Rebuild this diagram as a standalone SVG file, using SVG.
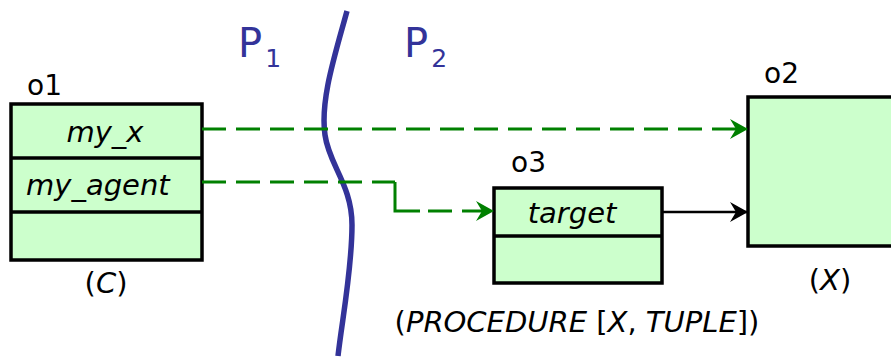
<svg xmlns="http://www.w3.org/2000/svg" width="891" height="360" viewBox="0 0 891 360">
  <style>
    .box { fill: #ccffcc; stroke: #000; stroke-width: 3.5; }
    .div { stroke: #000; stroke-width: 3.5; }
    .name { font-family: "DejaVu Sans", Verdana, sans-serif; font-size: 28px; fill: #000; }
    .attr { font-family: "DejaVu Sans", Verdana, sans-serif; font-size: 29px; font-style: italic; fill: #000; }
    .type { font-family: "DejaVu Sans", Verdana, sans-serif; font-size: 29px; fill: #000; }
    .it { font-style: italic; }
    .part { font-family: "DejaVu Sans", Verdana, sans-serif; font-size: 40px; fill: #333399; }
    .sub { font-size: 25px; }
    .ref { fill: none; stroke: #008000; stroke-width: 3; stroke-dasharray: 24 10; }
    .refsolid { fill: none; stroke: #008000; stroke-width: 3; }
    .link { fill: none; stroke: #000; stroke-width: 2.5; }
    .split { fill: none; stroke: #333399; stroke-width: 5.5; stroke-linecap: butt; }
  </style>
  <defs>
    <marker id="arrGreen" viewBox="0 0 18 20" refX="17" refY="10" markerWidth="18" markerHeight="20" markerUnits="userSpaceOnUse" orient="auto">
      <path d="M0,0 L18,10 L0,20 L6,10 Z" fill="#008000"/>
    </marker>
    <marker id="arrBlack" viewBox="0 0 18 20" refX="17" refY="10" markerWidth="18" markerHeight="20" markerUnits="userSpaceOnUse" orient="auto">
      <path d="M0,0 L18,10 L0,20 L6,10 Z" fill="#000"/>
    </marker>
  </defs>

  <!-- partition boundary -->
  <g id="partition">
    <path class="split" d="M347,11 C335,55 320,100 325,135 C329,165 352,185 352,225 C352,270 342,320 338,356"/>
    <text class="part" x="238" y="57">P<tspan class="sub" dx="3" dy="10">1</tspan></text>
    <text class="part" x="404" y="57">P<tspan class="sub" dx="3" dy="10">2</tspan></text>
  </g>

  <!-- object o1 -->
  <g id="o1">
    <text class="name" x="27" y="95">o1</text>
    <rect class="box" x="11" y="104" width="191" height="156"/>
    <line class="div" x1="11" y1="158" x2="202" y2="158"/>
    <line class="div" x1="11" y1="212" x2="202" y2="212"/>
    <text class="attr" x="105" y="142" text-anchor="middle">my_x</text>
    <text class="attr" x="26" y="195">my_agent</text>
    <text class="type" x="106" y="293" text-anchor="middle">(<tspan class="it">C</tspan>)</text>
  </g>

  <!-- object o3 -->
  <g id="o3">
    <text class="name" x="511" y="172">o3</text>
    <rect class="box" x="494" y="188" width="168" height="95"/>
    <line class="div" x1="494" y1="236" x2="662" y2="236"/>
    <text class="attr" x="572" y="223" text-anchor="middle">target</text>
    <text class="type" x="577" y="332" text-anchor="middle">(<tspan class="it">PROCEDURE</tspan> [<tspan class="it">X</tspan>, <tspan class="it">TUPLE</tspan>])</text>
  </g>

  <!-- object o2 -->
  <g id="o2">
    <text class="name" x="764" y="83">o2</text>
    <rect class="box" x="748" y="97" width="160" height="149"/>
    <text class="type" x="830" y="290" text-anchor="middle">(<tspan class="it">X</tspan>)</text>
  </g>

  <!-- references -->
  <g id="connectors">
    <path class="ref" d="M202,129 L747,129" marker-end="url(#arrGreen)"/>
    <!-- my_agent -> target, dashed with a solid elbow -->
    <path class="ref" d="M202,182 L395,182"/>
    <path class="refsolid" d="M395,182 L395,211 L420,211"/>
    <path class="ref" d="M428,211 L493,211" marker-end="url(#arrGreen)"/>
    <path class="link" d="M662,212 L747,212" marker-end="url(#arrBlack)"/>
  </g>
</svg>
